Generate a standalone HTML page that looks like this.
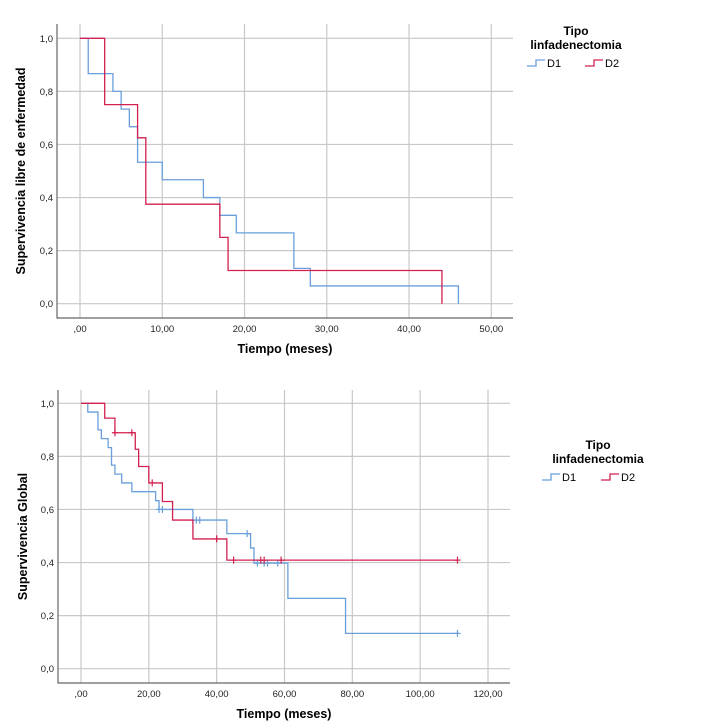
<!DOCTYPE html>
<html><head><meta charset="utf-8"><style>
body{margin:0;background:#fff;}
svg{display:block;font-family:"Liberation Sans",sans-serif;}
</style></head><body>
<svg id="s" width="702" height="727"></svg>
<script>
// Chart 1: disease-free survival
const c1TimesD1=[0,1,4,5,6,7,10,15,17,19,26,28,46];
const c1SurvD1=[1,0.867,0.8,0.733,0.667,0.533,0.467,0.4,0.333,0.267,0.133,0.067,0];
const c1TimesD2=[0,3,7,8,17,18,44];
const c1SurvD2=[1,0.75,0.625,0.375,0.25,0.125,0];
const c1XTicks=[0,10,20,30,40,50];
const c1XLabels=[",00","10,00","20,00","30,00","40,00","50,00"];
const yTicks=[0,0.2,0.4,0.6,0.8,1.0];
const yLabels=["0,0","0,2","0,4","0,6","0,8","1,0"];
// Chart 2: overall survival
const c2TimesD1=[0,2,5,6,8,9,10,12,15,22,23,33,43,50,51,61,78,111];
const c2SurvD1=[1,0.967,0.9,0.867,0.833,0.767,0.733,0.7,0.667,0.633,0.6,0.56,0.509,0.455,0.398,0.265,0.133,0.133];
const c2CensD1=[23,24,33,34,35,49,52,54,55,58,111];
const c2CensD1Surv=[0.6,0.6,0.56,0.56,0.56,0.509,0.398,0.398,0.398,0.398,0.133];
const c2TimesD2=[0,7,10,16,17,20,24,27,33,43,111];
const c2SurvD2=[1,0.944,0.889,0.827,0.762,0.7,0.63,0.56,0.489,0.409,0.409];
const c2CensD2=[10,15,21,40,45,53,54,59,111];
const c2CensD2Surv=[0.889,0.889,0.7,0.489,0.409,0.409,0.409,0.409,0.409];
const c2XTicks=[0,20,40,60,80,100,120];
const c2XLabels=[",00","20,00","40,00","60,00","80,00","100,00","120,00"];

const S=document.getElementById('s');const NS="http://www.w3.org/2000/svg";
function mk(t,a,txt){const e=document.createElementNS(NS,t);for(const k in a)e.setAttribute(k,a[k]);if(txt!==undefined)e.textContent=txt;S.appendChild(e);return e;}
const BLUE="#6a9fdc",RED="#d2204f";
function chart(o){
  const X=v=>o.x0+(v-o.xmin)/(o.xmax-o.xmin)*(o.x1-o.x0);
  const Y=v=>o.y0+(1-v)*(o.y1-o.y0);
  o.xt.forEach((t,i)=>{
    const l=mk('line',{x1:X(t),x2:X(t),y1:o.top,y2:o.bot,stroke:'#c8c8c8','stroke-width':1.2});
    
    const tx=mk('text',{x:X(t),y:o.bot+14,'font-size':9.5,'text-anchor':'middle',fill:'#222'},o.xl[i]);
    
  });
  yTicks.forEach((t,i)=>{
    const l=mk('line',{x1:o.left,x2:o.right,y1:Y(t),y2:Y(t),stroke:'#c8c8c8','stroke-width':1.2});
    
    const tx=mk('text',{x:o.left-4,y:Y(t)+3.5,'font-size':9.5,'text-anchor':'end',fill:'#222'},yLabels[i]);
    
  });
  const ax=mk('path',{d:`M${o.left},${o.top}V${o.bot}H${o.right}`,fill:'none',stroke:'#666','stroke-width':1.2});
  
  const xt=mk('text',{x:(o.left+o.right)/2,y:o.bot+35,'font-size':12.5,'font-weight':'bold','text-anchor':'middle'},'Tiempo (meses)');
  
  const yt=mk('text',{x:0,y:0,'font-size':12.5,'font-weight':'bold','text-anchor':'middle',transform:`translate(${o.ytx},${(o.top+o.bot)/2}) rotate(-90)`},o.ytitle);
  
  o.series.forEach(s=>{
    let d=`M${X(s.t[0])},${Y(s.s[0])}`;
    for(let i=1;i<s.t.length;i++){d+=`H${X(s.t[i])}V${Y(s.s[i])}`;}
    const p=mk('path',{d,fill:'none',stroke:s.c,'stroke-width':1.3});
    
    if(s.ct)s.ct.forEach((t,i)=>{
      const m=mk('path',{d:`M${X(t)-3},${Y(s.cs[i])}H${X(t)+3}M${X(t)},${Y(s.cs[i])-3.5}V${Y(s.cs[i])+3.5}`,stroke:s.c,'stroke-width':1.2});
      
    });
  });
  const L=o.leg;
  [['Tipo',0],['linfadenectomia',14]].forEach(([t,dy])=>{
    const e=mk('text',{x:L.cx,y:L.y+dy,'font-size':12,'font-weight':'bold','text-anchor':'middle'},t);
    
  });
  [['D1',BLUE,L.x1],['D2',RED,L.x2]].forEach(([n,c,x])=>{
    const y=L.y+28;
    const p=mk('path',{d:`M${x},${y+3}H${x+9}V${y-3}H${x+18}`,fill:'none',stroke:c,'stroke-width':1.3});
    
    const e=mk('text',{x:x+20,y:y+4,'font-size':11},n);
    
  });
}
chart({x0:80,x1:491.3,xmin:0,xmax:50,y0:38.3,y1:303.7,left:57,right:513,top:24,bot:318,
  xt:c1XTicks,xl:c1XLabels,ytx:25,ytitle:'Supervivencia libre de enfermedad',
  series:[{t:c1TimesD1,s:c1SurvD1,c:BLUE,name:'d1-curve-top'},{t:c1TimesD2,s:c1SurvD2,c:RED,name:'d2-curve-top'}],
  leg:{cx:576,y:35,x1:527,x2:585}});
chart({x0:81,x1:488,xmin:0,xmax:120,y0:403.3,y1:668.7,left:58,right:510,top:390,bot:683,
  xt:c2XTicks,xl:c2XLabels,ytx:27,ytitle:'Supervivencia Global',
  series:[{t:c2TimesD1,s:c2SurvD1,c:BLUE,name:'d1-curve-bottom',ct:c2CensD1,cs:c2CensD1Surv},
          {t:c2TimesD2,s:c2SurvD2,c:RED,name:'d2-curve-bottom',ct:c2CensD2,cs:c2CensD2Surv}],
  leg:{cx:598,y:449,x1:542,x2:601}});
</script>
</body></html>
